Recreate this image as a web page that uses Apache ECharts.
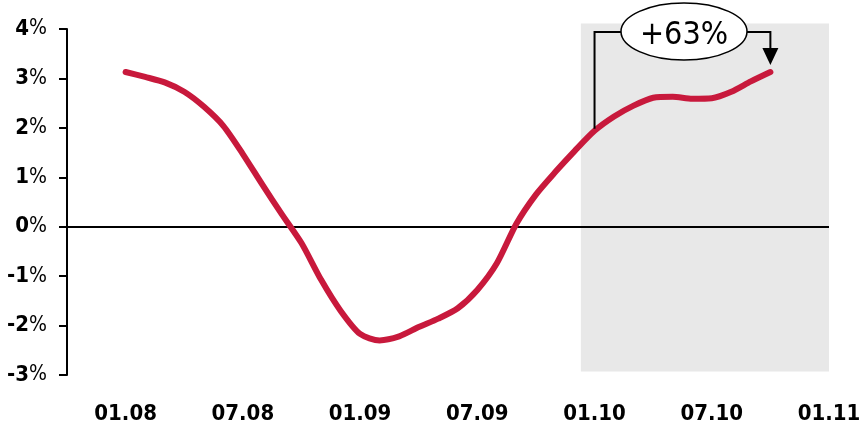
<!DOCTYPE html>
<html>
<head>
<meta charset="utf-8">
<script src="https://cdn.jsdelivr.net/npm/echarts@6/dist/echarts.min.js"></script>
<style>
  html, body { margin: 0; padding: 0; background: #ffffff; }
  #chart { width: 860px; height: 429px; }
</style>
</head>
<body>
<div id="chart"></div>
<script>
// Monthly year-on-year change, Jan 2008 .. Oct 2010 (MM.YY)
const months = [
  '01.08','02.08','03.08','04.08','05.08','06.08','07.08','08.08','09.08','10.08','11.08','12.08',
  '01.09','02.09','03.09','04.09','05.09','06.09','07.09','08.09','09.09','10.09','11.09','12.09',
  '01.10','02.10','03.10','04.10','05.10','06.10','07.10','08.10','09.10','10.10'
];
const values = [
  3.13, 3.03, 2.92, 2.73, 2.43, 2.04, 1.47, 0.85, 0.25, -0.33, -1.07, -1.70,
  -2.17, -2.30, -2.22, -2.03, -1.86, -1.65, -1.28, -0.74, 0.06, 0.65, 1.11, 1.54,
  1.94, 2.23, 2.45, 2.61, 2.63, 2.59, 2.60, 2.73, 2.94, 3.13
];
const xTickLabels = ['01.08', '07.08', '01.09', '07.09', '01.10', '07.10', '01.11'];
const yTicks = [-3, -2, -1, 0, 1, 2, 3, 4];
const highlightFrom = '01.10';
const changeLabel = '+63%';

// months since Jan 2008
function monthOffset(mmyy) {
  const [mm, yy] = mmyy.split('.').map(Number);
  return (yy - 8) * 12 + (mm - 1);
}

const points = months.map((m, i) => [monthOffset(m), values[i]]);
const xStart = monthOffset('10.07');
const xEnd = monthOffset(xTickLabels[xTickLabels.length - 1]);
const shadeStart = monthOffset(highlightFrom) - 0.7;

const chart = echarts.init(document.getElementById('chart'), null, { renderer: 'canvas' });

const labelFont = '"DejaVu Sans Condensed", "DejaVu Sans", sans-serif';

chart.setOption({
  animation: false,
  backgroundColor: '#ffffff',
  grid: { left: 67, right: 31, top: 29, bottom: 54, containLabel: false, outerBoundsMode: 'none' },
  xAxis: {
    type: 'value',
    min: xStart,
    max: xEnd,
    interval: 3,
    axisLine: { show: false },
    axisTick: { show: false },
    splitLine: { show: false },
    axisLabel: {
      margin: 28,
      fontFamily: labelFont,
      fontWeight: 'bold',
      fontSize: 22,
      color: '#000',
      formatter: function (v) {
        const lbl = xTickLabels.find(t => monthOffset(t) === v);
        return lbl || '';
      }
    }
  },
  yAxis: {
    type: 'value',
    min: yTicks[0],
    max: yTicks[yTicks.length - 1],
    interval: 1,
    axisLine: { show: true, onZero: false, lineStyle: { color: '#000', width: 2 } },
    axisTick: { show: true, length: 8, lineStyle: { color: '#000', width: 2 } },
    splitLine: { show: false },
    axisLabel: {
      margin: 20,
      formatter: function (v) { return '{n|' + v + '}{p|%}'; },
      rich: {
        n: { fontFamily: labelFont, fontWeight: 'bold', fontSize: 22, color: '#000' },
        p: { fontFamily: labelFont, fontWeight: 'normal', fontSize: 21, color: '#000' }
      }
    }
  },
  series: [{
    type: 'line',
    data: points,
    smooth: 0.25,
    showSymbol: false,
    clip: false,
    z: 5,
    lineStyle: { color: '#C8193C', width: 6, cap: 'round', join: 'round' },
    markLine: {
      silent: true,
      symbol: 'none',
      label: { show: false },
      lineStyle: { color: '#000', width: 2, type: 'solid' },
      data: [{ yAxis: 0 }]
    }
  }]
});

// Shaded period and bracket annotation from 01.10 to the last month
function drawAnnotation() {
  const i0 = months.indexOf(highlightFrom);
  const i1 = months.length - 1;
  const pStart = chart.convertToPixel({ gridIndex: 0 }, points[i0]);
  const pEnd = chart.convertToPixel({ gridIndex: 0 }, points[i1]);
  const shadeTL = chart.convertToPixel({ gridIndex: 0 }, [shadeStart, 4.11]);
  const shadeBR = chart.convertToPixel({ gridIndex: 0 }, [xEnd, -2.93]);
  const xL = pStart[0];
  const xR = pEnd[0];
  const yBar = 32;
  const cx = 684, cy = 31.5, rx = 63, ry = 28.5;
  const black = '#000';
  chart.setOption({
    graphic: [
      { type: 'rect', z: 0, silent: true,
        shape: { x: shadeTL[0], y: shadeTL[1], width: shadeBR[0] - shadeTL[0], height: shadeBR[1] - shadeTL[1] },
        style: { fill: '#e8e8e8' } },
      { type: 'polyline', z: 20, silent: true,
        shape: { points: [[xL, pStart[1] - 2], [xL, yBar], [cx - rx, yBar]] },
        style: { stroke: black, lineWidth: 2, fill: null } },
      { type: 'polyline', z: 20, silent: true,
        shape: { points: [[cx + rx, yBar], [xR, yBar], [xR, 49]] },
        style: { stroke: black, lineWidth: 2, fill: null } },
      { type: 'polygon', z: 20, silent: true,
        shape: { points: [[xR - 8, 48], [xR + 8, 48], [xR, 65]] },
        style: { fill: black } },
      { type: 'ellipse', z: 21, silent: true,
        shape: { cx: cx, cy: cy, rx: rx, ry: ry },
        style: { fill: '#fff', stroke: black, lineWidth: 1.5 } },
      { type: 'text', z: 22, silent: true, x: cx, y: cy + 4,
        style: { text: changeLabel, fill: black, fontFamily: '"DejaVu Sans Condensed", "DejaVu Sans", sans-serif',
                 fontSize: 32, align: 'center', verticalAlign: 'middle' } }
    ]
  });
}
drawAnnotation();
</script>
</body>
</html>
